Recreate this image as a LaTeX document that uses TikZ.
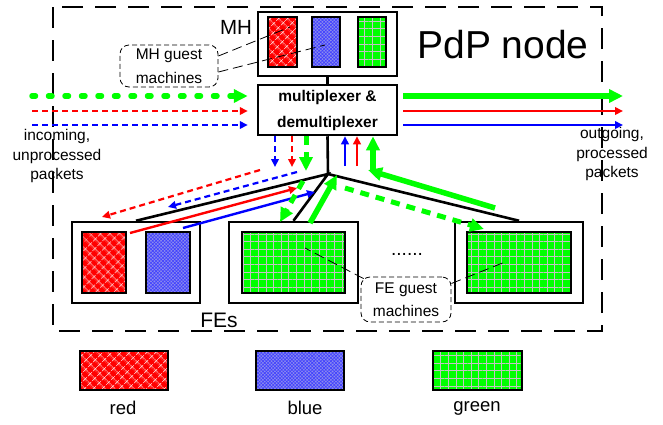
\documentclass[tikz,border=0pt]{standalone}
\usepackage{fontspec}
\setmainfont{Liberation Sans}
\usetikzlibrary{arrows.meta,patterns.meta}

\definecolor{vgreen}{RGB}{0,255,0}
\definecolor{vred}{RGB}{255,0,0}
\definecolor{vblue}{RGB}{0,0,255}
\definecolor{bluemix}{RGB}{140,140,238}
\definecolor{gridgray}{RGB}{195,195,195}

\tikzset{
  box/.style={draw, line width=2.5pt, fill=white, inner sep=0pt},
  vmred/.style={preaction={fill=vred}, pattern={Hatch[angle=45,distance=6.5pt,line width=0.7pt]},
    pattern color=white, draw, line width=2pt, inner sep=0pt},
  vmblue/.style={preaction={fill=bluemix}, pattern={Hatch[angle=45,distance=2.4pt,line width=0.6pt]},
    pattern color=vblue!75, draw, line width=2pt, inner sep=0pt},
  vmgreen/.style={preaction={fill=vgreen}, pattern={Hatch[angle=0,distance=7.6pt,line width=0.8pt]},
    pattern color=gridgray, draw, line width=2pt, inner sep=0pt},
  frame/.style={draw, line width=1.4pt, dash pattern=on 21pt off 12pt},
  bubble/.style={draw, line width=0.8pt, dash pattern=on 5pt off 3pt, rounded corners=9pt,
    align=center, inner sep=0pt, font=\fontsize{15.5}{23.5}\selectfont},
  leader/.style={line width=0.8pt, dash pattern=on 10pt off 5pt},
  conn/.style={line width=2.6pt},
  smalltip/.style={-{Triangle[length=8pt,width=7.5pt]}},
  bigtip/.style={-{Triangle[length=14pt,width=13pt]}},
  gdot/.style={vgreen, line width=5.5pt, line cap=round, dash pattern=on 3.5pt off 13pt, bigtip},
  gdash/.style={vgreen, line width=5pt, dash pattern=on 9pt off 7pt, bigtip},
  gsolid/.style={vgreen, line width=5.5pt, bigtip},
  rdash/.style={vred, line width=2.2pt, dash pattern=on 6pt off 4pt, smalltip},
  bdash/.style={vblue, line width=2.2pt, dash pattern=on 6pt off 4pt, smalltip},
  rsolid/.style={vred, line width=2.4pt, smalltip},
  bsolid/.style={vblue, line width=2.4pt, smalltip},
  label/.style={align=center, font=\fontsize{15.5}{19.5}\selectfont}
}

\begin{document}
\begin{tikzpicture}[x=1pt,y=-1pt]
\useasboundingbox (0,0) rectangle (663,424);

% dashed outline of the PdP node
\draw[frame] (53,7) rectangle (602,331);

\node[font=\fontsize{39}{44}\selectfont] (pdp) at (503,45) {PdP node};
\node[font=\fontsize{20.5}{24}\selectfont] (mhlbl) at (236,27) {MH};

% management host with its guest machines
\node[box, minimum width=139pt, minimum height=64pt] (mh) at (327.5,44) {};
\node[vmred,   minimum width=29pt, minimum height=50pt] (mhr) at (282.5,42) {};
\node[vmblue,  minimum width=28pt, minimum height=50pt] (mhb) at (326,42) {};
\node[vmgreen, minimum width=28pt, minimum height=50pt] (mhg) at (372,42) {};

% multiplexer
\node[box, minimum width=139pt, minimum height=50pt, align=center,
      font=\fontsize{15.5}{26}\selectfont\bfseries] (mux) at (327.5,110)
      {multiplexer \&\\demultiplexer};
\draw[conn] (mh.south) -- (mux.north);

% forwarding elements
\node[box, minimum width=128pt, minimum height=81pt] (fe1) at (136,262.5) {};
\node[box, minimum width=129pt, minimum height=81pt] (fe2) at (293.5,262.5) {};
\node[box, minimum width=128pt, minimum height=81pt] (fe3) at (519,262.5) {};
\node[vmred,   minimum width=44pt,  minimum height=61pt] (fe1r) at (104,262.5) {};
\node[vmblue,  minimum width=44pt,  minimum height=61pt] (fe1b) at (168,262.5) {};
\node[vmgreen, minimum width=103pt, minimum height=61pt] (fe2g) at (293.5,262.5) {};
\node[vmgreen, minimum width=104pt, minimum height=61pt] (fe3g) at (519,262.5) {};

% internal links from the multiplexer to the FEs
\coordinate (J) at (328,174);
\draw[conn] (mux.south) -- (J);
\draw[conn] (fe1.north) -- (J) -- (fe2.north);
\draw[conn] (J) -- (fe3.north);

% guest machine callouts
\node[bubble, minimum width=98pt, minimum height=42pt] (mhguest) at (169,66) {MH guest\\machines};
\node[bubble, minimum width=90pt, minimum height=45pt] (feguest) at (406,299.5) {FE guest\\machines};
\coordinate (mhrpt) at (290,27);
\coordinate (mhbpt) at (325,45);
\coordinate (fe2pt) at (305,248);
\coordinate (fe3pt) at (505,262);
\draw[leader] ([yshift=10pt]mhguest.east) -- (mhrpt);
\draw[leader] ([yshift=-6pt]mhguest.east) -- (mhbpt);
\draw[leader] ([xshift=3pt,yshift=-2pt]feguest.north west) -- (fe2pt);
\draw[leader] ([yshift=16pt]feguest.east) -- (fe3pt);

\node[font=\fontsize{19}{22}\selectfont] (dots) at (407,254) {......};
\node[font=\fontsize{21}{24}\selectfont] (fes) at (219,320) {FEs};

% incoming traffic
\coordinate (inG) at (32,96);
\coordinate (inR) at (32,111);
\coordinate (inB) at (32,125);
\draw[gdot, shorten >=9pt] (inG) -- (inG -| mux.west);
\draw[rdash, shorten >=9pt] (inR) -- (inR -| mux.west);
\draw[bdash, shorten >=9pt] (inB) -- (inB -| mux.west);
\node[label] (inlbl) at (57,156) {incoming,\\unprocessed\\packets};

% outgoing traffic
\coordinate (outG) at (623,96);
\coordinate (outR) at (623,111);
\coordinate (outB) at (623,125);
\draw[gsolid, shorten <=5pt] (outG -| mux.east) -- (outG);
\draw[rsolid, shorten <=5pt] (outR -| mux.east) -- (outR);
\draw[bsolid, shorten <=5pt] (outB -| mux.east) -- (outB);
\node[label] (outlbl) at (612,154) {outgoing,\\processed\\packets};

% down to the guests (unprocessed)
\coordinate (bdn) at (275,167);
\coordinate (rdn) at (292,167);
\coordinate (gdn) at (306,171);
\draw[bdash] (bdn |- mux.south) -- (bdn);
\draw[rdash] (rdn |- mux.south) -- (rdn);
\draw[gdash] (gdn |- mux.south) -- (gdn);

% up from the guests (processed)
\coordinate (bup) at (345,166);
\coordinate (rup) at (357,166);
\coordinate (gup) at (373,171);
\draw[bsolid] (bup) -- (bup |- mux.south);
\draw[rsolid] (rup) -- (rup |- mux.south);
\draw[gsolid] (gup) -- (gup |- mux.south);

% traffic along the FE links
\coordinate (rdA) at (260,170);  \coordinate (rdB) at (102,217);
\coordinate (bdA) at (297,172);  \coordinate (bdB) at (168,207);
\coordinate (rsA) at (130,233);  \coordinate (rsB) at (297,188);
\coordinate (bsA) at (183,228);  \coordinate (bsB) at (315,192);
\coordinate (gdA) at (303,181);  \coordinate (gdB) at (280,222);
\coordinate (gsA) at (310,223);  \coordinate (gsB) at (337,175);
\coordinate (grA) at (345,188);  \coordinate (grB) at (484,229);
\coordinate (gbA) at (495,208);  \coordinate (gbB) at (368,170);
\draw[rdash] (rdA) -- (rdB);
\draw[bdash] (bdA) -- (bdB);
\draw[rsolid] (rsA) -- (rsB);
\draw[bsolid] (bsA) -- (bsB);
\draw[gdash] (gdA) -- (gdB);
\draw[gsolid] (gsA) -- (gsB);
\draw[gdash] (grA) -- (grB);
\draw[gsolid] (gbA) -- (gbB);

% legend
\node[vmred,   minimum width=88pt, minimum height=39pt] (legr) at (124,370.5) {};
\node[vmblue,  minimum width=88pt, minimum height=39pt] (legb) at (300,370.5) {};
\node[vmgreen, minimum width=89pt, minimum height=39pt] (legg) at (477.5,370.5) {};
\node[font=\fontsize{18.5}{22}\selectfont] (legrl) at (123,408) {red};
\node[font=\fontsize{18.5}{22}\selectfont] (legbl) at (305,408) {blue};
\node[font=\fontsize{18.5}{22}\selectfont] (leggl) at (477,408) {green};
\end{tikzpicture}
\end{document}
